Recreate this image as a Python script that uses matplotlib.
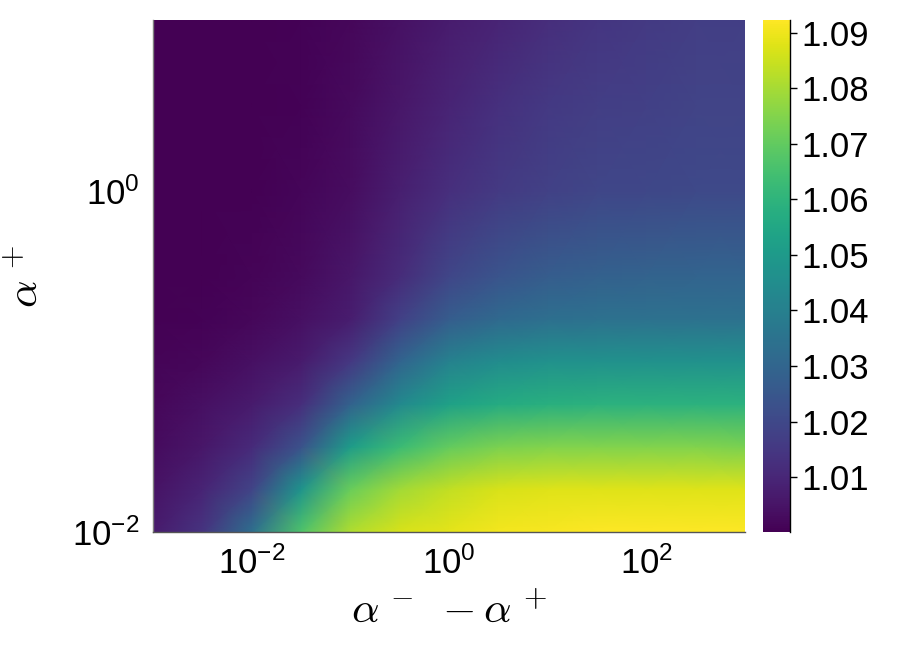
import numpy as np
import matplotlib
matplotlib.use("Agg")
import matplotlib.pyplot as plt
from matplotlib.ticker import FixedLocator, LogFormatterSciNotation

plt.rcParams['font.family'] = ['Liberation Sans', 'DejaVu Sans']
plt.rcParams['mathtext.fontset'] = 'cm'

# log10 of alpha^- - alpha^+ (columns) and log10 of alpha^+ (rows)
log_x = [-3.0, -2.5, -2.0, -1.5, -1.0, -0.5, 0.0, 0.5, 1.0, 1.5, 2.0, 2.5, 3.0]
log_y = [-2.0, -1.75, -1.5, -1.25, -1.0, -0.75, -0.5, 0.0, 0.5, 1.0]

# values (rows follow log_y)
row_m200 = [1.0066, 1.0139, 1.0333, 1.0665, 1.0812, 1.0868, 1.0886, 1.0905, 1.0914, 1.0923, 1.0923, 1.0923, 1.0923]
row_m175 = [1.0047, 1.0093, 1.0185, 1.0480, 1.0711, 1.0794, 1.0840, 1.0868, 1.0877, 1.0877, 1.0877, 1.0877, 1.0877]
row_m150 = [1.0029, 1.0056, 1.0112, 1.0232, 1.0508, 1.0628, 1.0702, 1.0739, 1.0748, 1.0748, 1.0748, 1.0748, 1.0739]
row_m125 = [1.0019, 1.0038, 1.0066, 1.0121, 1.0287, 1.0434, 1.0527, 1.0563, 1.0582, 1.0591, 1.0591, 1.0591, 1.0591]
row_m100 = [1.0010, 1.0019, 1.0038, 1.0066, 1.0149, 1.0296, 1.0407, 1.0444, 1.0462, 1.0462, 1.0462, 1.0462, 1.0462]
row_m075 = [1.0004, 1.0008, 1.0019, 1.0038, 1.0075, 1.0176, 1.0268, 1.0314, 1.0333, 1.0342, 1.0342, 1.0342, 1.0342]
row_m050 = [1.0001, 1.0004, 1.0010, 1.0024, 1.0056, 1.0116, 1.0195, 1.0241, 1.0268, 1.0282, 1.0291, 1.0296, 1.0296]
row_p000 = [1.0001, 1.0001, 1.0004, 1.0012, 1.0033, 1.0079, 1.0125, 1.0158, 1.0181, 1.0195, 1.0199, 1.0204, 1.0204]
row_p050 = [1.0001, 1.0001, 1.0001, 1.0008, 1.0024, 1.0056, 1.0093, 1.0130, 1.0153, 1.0167, 1.0176, 1.0185, 1.0185]
row_p100 = [1.0001, 1.0001, 1.0001, 1.0006, 1.0019, 1.0042, 1.0070, 1.0093, 1.0121, 1.0144, 1.0158, 1.0167, 1.0172]

x_ticks = [1e-2, 1e0, 1e2]
y_ticks = [1e-2, 1e0]
cbar_ticks = [1.01, 1.02, 1.03, 1.04, 1.05, 1.06, 1.07, 1.08, 1.09]
vmin, vmax = 1.0001, 1.0923

Z = np.array([row_m200, row_m175, row_m150, row_m125, row_m100,
              row_m075, row_m050, row_p000, row_p050, row_p100])
X = 10.0 ** np.array(log_x)
Y = 10.0 ** np.array(log_y)

fig = plt.figure(figsize=(9, 6.54), dpi=100)
ax = fig.add_axes([0.170, 0.1865, 0.658, 0.783])
cax = fig.add_axes([0.848, 0.1865, 0.030, 0.783])

mesh = ax.pcolormesh(X, Y, Z, shading='gouraud', cmap='viridis', vmin=vmin, vmax=vmax)
ax.set_xscale('log')
ax.set_yscale('log')
ax.set_xlim(X[0], X[-1])
ax.set_ylim(Y[0], Y[-1])
ax.xaxis.set_major_locator(FixedLocator(x_ticks))
ax.yaxis.set_major_locator(FixedLocator(y_ticks))
ax.xaxis.set_minor_locator(FixedLocator([]))
ax.yaxis.set_minor_locator(FixedLocator([]))
ax.xaxis.set_major_formatter(LogFormatterSciNotation())
ax.yaxis.set_major_formatter(LogFormatterSciNotation())
ax.tick_params(axis='both', length=0, labelsize=25, pad=10)
for s in ['top', 'right']:
    ax.spines[s].set_visible(False)
ax.spines['left'].set_color('#808080')
ax.spines['bottom'].set_color('#555555')
ax.spines['left'].set_linewidth(1.0)
ax.spines['bottom'].set_linewidth(1.0)

ax.set_xlabel(r'$\alpha^{\,-}\ -\alpha^{\,+}$', fontsize=31, labelpad=8)
ax.set_ylabel(r'$\alpha^{\,+}$', fontsize=31, labelpad=18)

cb = fig.colorbar(mesh, cax=cax, ticks=cbar_ticks)
cb.outline.set_visible(False)
cax.plot([1, 1], [0, 1], transform=cax.transAxes, color='black', lw=1.0, clip_on=False)
cax.tick_params(axis='y', length=5, width=1, labelsize=25, pad=3, direction='out')
cax.set_yticklabels([f'{t:.2f}' for t in cbar_ticks])

fig.savefig('out.png', dpi=100)
